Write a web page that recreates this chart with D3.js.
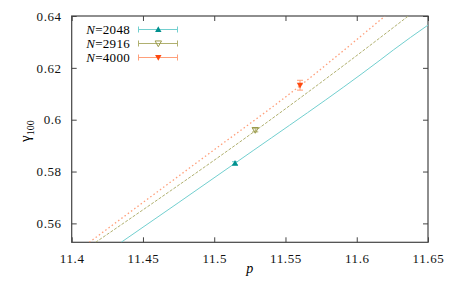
<!DOCTYPE html>
<html><head><meta charset="utf-8">
<script src="https://cdn.jsdelivr.net/npm/d3@7/dist/d3.min.js"></script>
<style>body{margin:0;background:#fff}svg{display:block}text{font-family:"Liberation Serif","DejaVu Serif",serif}</style>
</head><body><svg id="c" width="449" height="281"></svg>
<script>
const xTicks = [11.4, 11.45, 11.5, 11.55, 11.6, 11.65];
const xTickLabels = ["11.4", "11.45", "11.5", "11.55", "11.6", "11.65"];
const yTicks = [0.56, 0.58, 0.6, 0.62, 0.64];
const yTickLabels = ["0.56", "0.58", "0.6", "0.62", "0.64"];
const seriesNames = ["2048", "2916", "4000"];
// data points: p, gamma, error
const pointP = [11.5146, 11.5288, 11.5602];
const pointG = [0.5832, 0.5960, 0.6133];
const pointErr = [0.0006, 0.0007, 0.0019];
// fit curves
const fit2048 = [[11.4347, 0.5527], [11.5146, 0.5832], [11.6164, 0.6230], [11.6257, 0.6269], [11.65, 0.6365]];
const fit2916 = [[11.4168, 0.5527], [11.5288, 0.5957], [11.5958, 0.6230], [11.6362, 0.6400]];
const fit4000 = [[11.4123, 0.5527], [11.4901, 0.5844], [11.5602, 0.6131], [11.5826, 0.6230], [11.6198, 0.6400]];

const markerCol = ["#00908e", "#9a9a48", "#ff4a10"];
const lineCol = ["#72cfcf", "#b0b070", "#ff9f7a"];
const dash = [null, "3,1.5", "1.5,2.5"];

const svg = d3.select("#c");
const L = 71.7, R = 428, T = 16, B = 242.3;
const x = d3.scaleLinear().domain([11.4, 11.65]).range([L, R]);
const y = d3.scaleLinear().domain([0.5527, 0.64]).range([B, T]);

svg.append("defs").append("clipPath").attr("id", "clip")
  .append("rect").attr("x", L).attr("y", T).attr("width", R - L).attr("height", B - T);

const axCol = "#444";
const fs = "13px";
const gxB = svg.append("g").attr("transform", `translate(0,${B})`)
  .call(d3.axisBottom(x).tickValues(xTicks).tickFormat((d, i) => xTickLabels[i]).tickSizeInner(-5).tickSizeOuter(0).tickPadding(11));
const gxT = svg.append("g").attr("transform", `translate(0,${T})`)
  .call(d3.axisTop(x).tickValues(xTicks).tickFormat("").tickSizeInner(-5).tickSizeOuter(0));
const gyL = svg.append("g").attr("transform", `translate(${L},0)`)
  .call(d3.axisLeft(y).tickValues(yTicks).tickFormat((d, i) => yTickLabels[i]).tickSizeInner(-5).tickSizeOuter(0).tickPadding(10));
const gyR = svg.append("g").attr("transform", `translate(${R},0)`)
  .call(d3.axisRight(y).tickValues(yTicks).tickFormat("").tickSizeInner(-5).tickSizeOuter(0));
[gxB, gxT, gyL, gyR].forEach(g => {
  g.attr("font-family", null);
  g.select(".domain").remove();
  g.selectAll("line").attr("stroke", axCol);
  g.selectAll("text").attr("fill", "#111").style("font-size", fs).style("letter-spacing", "0.6px")
    .style("font-family", '"Liberation Serif",serif');
});
svg.append("rect").attr("x", L).attr("y", T).attr("width", R - L).attr("height", B - T)
  .attr("fill", "none").attr("stroke", axCol).attr("stroke-width", 1.2);

// labels
svg.append("text").attr("x", (L + R) / 2).attr("y", 273).attr("text-anchor", "middle")
  .style("font-size", "14px").style("font-style", "italic").text("p");
const yl = svg.append("text").attr("transform", `translate(30,${(T + B) / 2 + 2}) rotate(-90)`).attr("text-anchor", "middle")
  .style("font-size", "15px");
yl.append("tspan").text("γ");
yl.append("tspan").attr("dy", 4).style("font-size", "10px").text("100");

// fit curves
const line = d3.line().x(d => x(d[0])).y(d => y(d[1])).curve(d3.curveMonotoneX);
const plot = svg.append("g").attr("clip-path", "url(#clip)");
[fit2048, fit2916, fit4000].forEach((f, i) => {
  plot.append("path").attr("d", line(f)).attr("fill", "none").attr("stroke", lineCol[i])
    .attr("stroke-width", i === 2 ? 1.3 : 1).attr("stroke-dasharray", dash[i]);
});

// markers
function marker(g, i, cx, cy) {
  const s = 3.2;
  if (i === 0) {
    g.append("path").attr("d", `M${cx},${cy - s}L${cx + s},${cy + s * 0.8}L${cx - s},${cy + s * 0.8}Z`).attr("fill", markerCol[i]);
  } else if (i === 1) {
    g.append("path").attr("d", `M${cx - s},${cy - s * 0.8}L${cx + s},${cy - s * 0.8}L${cx},${cy + s}Z`)
      .attr("fill", "none").attr("stroke", markerCol[i]).attr("stroke-width", 1);
  } else {
    g.append("path").attr("d", `M${cx - s},${cy - s * 0.8}L${cx + s},${cy - s * 0.8}L${cx},${cy + s}Z`).attr("fill", markerCol[i]);
  }
}
pointP.forEach((p, i) => {
  const cx = x(p), cy = y(pointG[i]);
  const y1 = y(pointG[i] + pointErr[i]), y2 = y(pointG[i] - pointErr[i]);
  const g = svg.append("g");
  g.append("line").attr("x1", cx).attr("x2", cx).attr("y1", y1).attr("y2", y2).attr("stroke", lineCol[i]);
  [y1, y2].forEach(yy => g.append("line").attr("x1", cx - 3).attr("x2", cx + 3).attr("y1", yy).attr("y2", yy).attr("stroke", lineCol[i]));
  marker(g, i, cx, cy);
});

// legend
seriesNames.forEach((n, i) => {
  const ly = 29.5 + i * 14;
  const t = svg.append("text").attr("x", 130).attr("y", ly + 4.5).attr("text-anchor", "end")
    .style("font-size", fs).style("letter-spacing", "0.3px");
  t.append("tspan").style("font-style", "italic").text("N");
  t.append("tspan").text("=" + n);
  const g = svg.append("g");
  g.append("line").attr("x1", 138.5).attr("x2", 177.5).attr("y1", ly).attr("y2", ly).attr("stroke", lineCol[i]);
  [138.5, 177.5].forEach(xx => g.append("line").attr("x1", xx).attr("x2", xx).attr("y1", ly - 3).attr("y2", ly + 3).attr("stroke", lineCol[i]));
  marker(g, i, 158.3, ly);
});
</script></body></html>
